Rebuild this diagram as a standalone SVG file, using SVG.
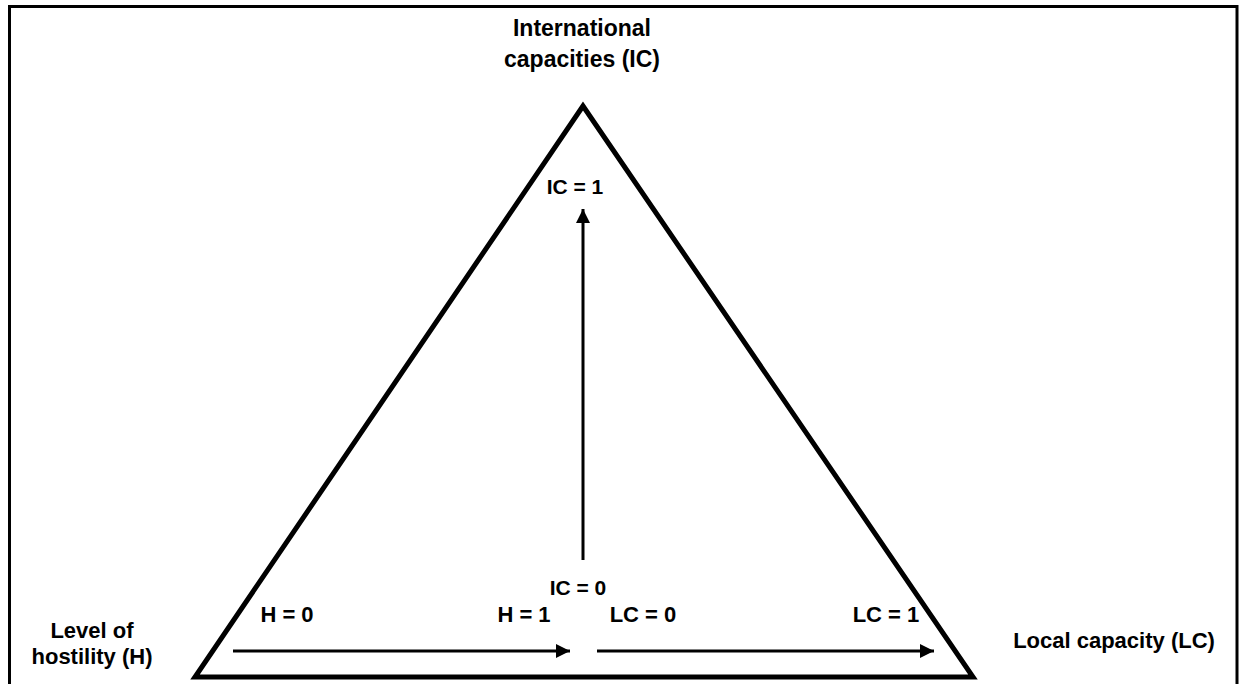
<svg xmlns="http://www.w3.org/2000/svg" width="1247" height="684" viewBox="0 0 1247 684">
<style>
text{font-family:"Liberation Sans",Arial,sans-serif;font-weight:bold;fill:#000;text-anchor:middle}
.lbl{font-size:21px}
.row{font-size:22px}
.big{font-size:22px}
.ax{stroke:#000;stroke-width:3;fill:none}
</style>
<defs>
<marker id="ah" viewBox="0 0 10 10" refX="10" refY="5" markerWidth="14" markerHeight="14" markerUnits="userSpaceOnUse" orient="auto">
<path d="M0,0 L10,5 L0,10 z" fill="#000"/>
</marker>
</defs>
<rect width="1247" height="684" fill="#fff"/>
<rect id="frame" x="9.5" y="6.5" width="1227.5" height="700" fill="none" stroke="#000" stroke-width="3"/>
<g id="triangle">
<polygon points="583,106 195,677 973,677" fill="none" stroke="#000" stroke-width="5" stroke-linejoin="miter"/>
</g>
<g id="connectors">
<line class="ax" x1="583" y1="560" x2="583" y2="209" marker-end="url(#ah)"/>
<line class="ax" x1="233" y1="651" x2="570" y2="651" marker-end="url(#ah)"/>
<line class="ax" x1="597" y1="651" x2="934" y2="651" marker-end="url(#ah)"/>
</g>
<g id="n-ic"><text class="big" style="font-size:23px" x="582" y="36">International</text><text class="big" style="font-size:23px" x="582" y="67">capacities (IC)</text></g>
<g id="n-h"><text class="big" x="92" y="638">Level of</text><text class="big" x="92" y="664">hostility (H)</text></g>
<g id="n-lc"><text class="big" x="1114" y="648">Local capacity (LC)</text></g>
<g id="l-ic1"><text class="lbl" x="575" y="194">IC = 1</text></g>
<g id="l-ic0"><text class="lbl" x="578" y="595">IC = 0</text></g>
<g id="l-h0"><text class="row" x="287" y="622">H = 0</text></g>
<g id="l-h1"><text class="row" x="524" y="622">H = 1</text></g>
<g id="l-lc0"><text class="row" x="643" y="622">LC = 0</text></g>
<g id="l-lc1"><text class="row" x="886" y="622">LC = 1</text></g>
</svg>
